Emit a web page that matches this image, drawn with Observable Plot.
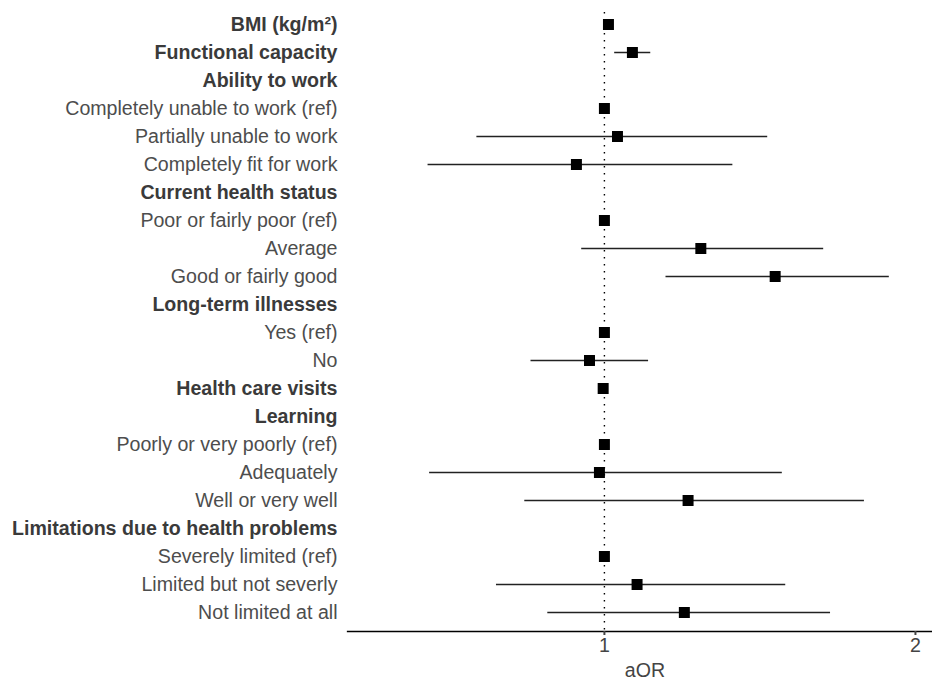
<!DOCTYPE html>
<html><head><meta charset="utf-8">
<script src="https://cdn.jsdelivr.net/npm/d3@7"></script>
<script src="https://cdn.jsdelivr.net/npm/@observablehq/plot@0.6"></script>
<style>html,body{margin:0;padding:0;background:#fff;overflow:hidden}</style>
</head><body><div id="chart"></div>
<script>
const labels = [
  "BMI (kg/m²)", "Functional capacity", "Ability to work",
  "Completely unable to work (ref)", "Partially unable to work", "Completely fit for work",
  "Current health status", "Poor or fairly poor (ref)", "Average", "Good or fairly good",
  "Long-term illnesses", "Yes (ref)", "No", "Health care visits", "Learning",
  "Poorly or very poorly (ref)", "Adequately", "Well or very well",
  "Limitations due to health problems", "Severely limited (ref)",
  "Limited but not severly", "Not limited at all"
];
const isHeading = [
  true, true, true, false, false, false, true, false, false, false,
  true, false, false, true, true, false, false, false, true, false, false, false
];
const estimate = [
  1.013, 1.09, null, 1, 1.042, 0.910, null, 1, 1.310, 1.549,
  null, 1, 0.952, 0.996, null, 1, 0.984, 1.269, null, 1, 1.105, 1.257
];
const lower = [
  1.003, 1.033, null, null, 0.590, 0.433, null, null, 0.927, 1.198,
  null, null, 0.764, 0.992, null, null, 0.438, 0.744, null, null, 0.653, 0.818
];
const upper = [
  1.023, 1.149, null, null, 1.525, 1.413, null, null, 1.705, 1.916,
  null, null, 1.142, 1.000, null, null, 1.572, 1.836, null, null, 1.583, 1.727
];
const xTicks = [1, 2];
const xLabel = "aOR";

const rows = labels.map((label, i) => ({label, heading: isHeading[i], est: estimate[i], lo: lower[i], hi: upper[i]}));
const withEst = rows.filter(d => d.est != null);
const withCI = rows.filter(d => d.lo != null);
const font = "'Liberation Sans', Arial, Helvetica, sans-serif";
const fs = 19.6;

const chart = Plot.plot({
  width: 932, height: 682,
  marginLeft: 347, marginRight: -10, marginTop: 12, marginBottom: 51,
  style: {fontFamily: font, fontSize: fs + "px", background: "#fff", overflow: "visible"},
  x: {domain: [0.174, 2.087]},
  y: {type: "point", domain: labels, range: [22.7, 613.7], padding: 0, axis: null},
  marks: [
    Plot.ruleX([1], {stroke: "#000", strokeWidth: 1.4, strokeDasharray: "1.4,5.6"}),
    Plot.ruleY(withCI, {y: "label", x1: "lo", x2: "hi", stroke: "#222", strokeWidth: 1.5}),
    Plot.dot(withEst, {x: "est", y: "label", symbol: "square", r: 6.2, fill: "#000", stroke: "none"}),
    Plot.text(rows.filter(d => !d.heading), {y: "label", text: "label", frameAnchor: "left", textAnchor: "end", dx: -10, fill: "#4d4d4d", fontSize: fs}),
    Plot.text(rows.filter(d => d.heading), {y: "label", text: "label", frameAnchor: "left", textAnchor: "end", dx: -10, fill: "#3a3a3a", fontSize: fs, fontWeight: "bold"}),
    Plot.frame({anchor: "bottom", stroke: "#000", strokeWidth: 1.3}),
    Plot.axisX({ticks: xTicks, tickFormat: d3.format("d"), tickSize: 4, tickPadding: 3, strokeWidth: 2, color: "#444", fontSize: fs,
      label: xLabel, labelAnchor: "center", labelArrow: "none", labelOffset: 45})
  ]
});
document.getElementById("chart").appendChild(chart);
</script>
</body></html>
